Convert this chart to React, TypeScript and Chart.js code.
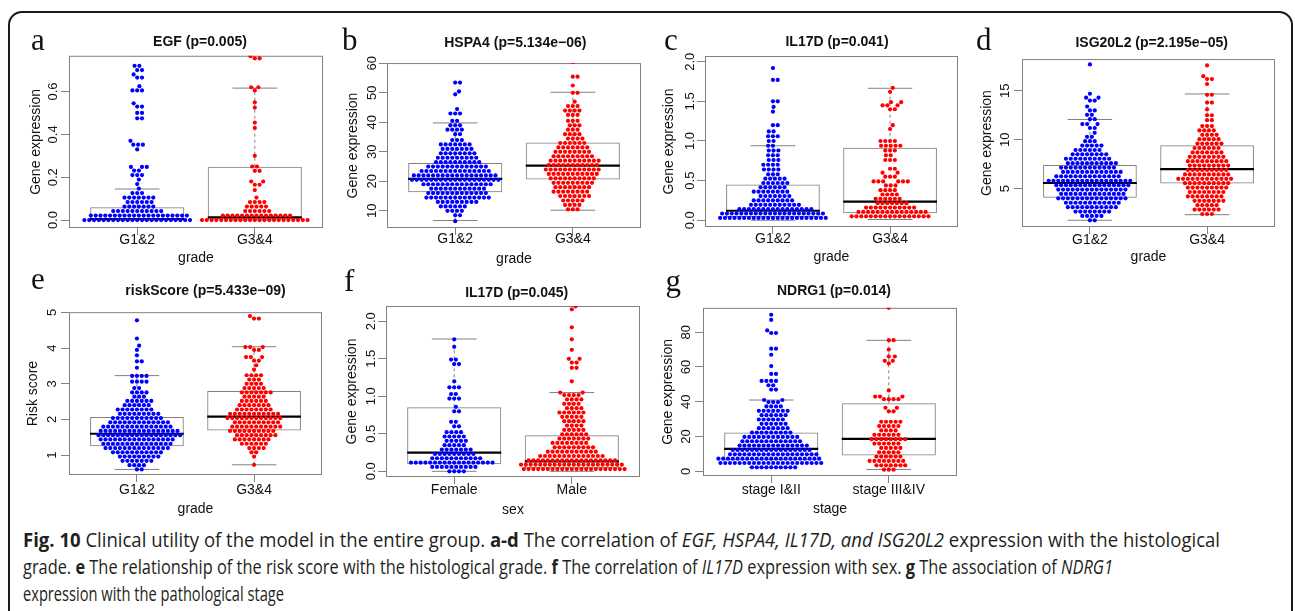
import React, { useEffect, useLayoutEffect, useRef } from 'react';
import { Chart, registerables } from 'chart.js';

Chart.register(...registerables);

const SANS = "'Liberation Sans', Arial, Helvetica, sans-serif";
const SERIF = "'Liberation Serif', 'Times New Roman', serif";
const CAPTION_FONT = "'Open Sans', 'Noto Sans', sans-serif";
const BLUE = '#0000ff';
const RED = '#ff0000';
const GRAY = '#808080';
const INK = '#111111';

// ---------------- data ----------------
const gradeGroups = ['G1&2', 'G3&4'];
const sexGroups = ['Female', 'Male'];
const stageGroups = ['stage I&II', 'stage III&IV'];

// y tick labels
const egfTicks = [0, 0.2, 0.4, 0.6];
const hspa4Ticks = [10, 20, 30, 40, 50, 60];
const il17dGradeTicks = [0, 0.5, 1, 1.5, 2];
const isg20l2Ticks = [5, 10, 15];
const riskTicks = [1, 2, 3, 4, 5];
const il17dSexTicks = [0, 0.5, 1, 1.5, 2];
const ndrg1Ticks = [0, 20, 40, 60, 80];

// box statistics: [lower whisker, Q1, median, Q3, upper whisker]
const egfBoxLow = [0, 0, 0.004, 0.06, 0.145];
const egfBoxHigh = [0, 0, 0.013, 0.249, 0.616];
const hspa4BoxLow = [6.7, 16.3, 20.8, 26.2, 39.8];
const hspa4BoxHigh = [10.2, 20.6, 25.3, 33.2, 50.2];
const il17dGradeBoxLow = [0, 0.04, 0.12, 0.45, 0.94];
const il17dGradeBoxHigh = [0.01, 0.09, 0.236, 0.915, 1.665];
const isg20l2BoxLow = [1.76, 4.05, 5.57, 7.42, 12.07];
const isg20l2BoxHigh = [2.33, 5.52, 7.0, 9.43, 14.68];
const riskBoxLow = [0.6, 1.25, 1.6, 2.07, 3.23];
const riskBoxHigh = [0.73, 1.69, 2.08, 2.8, 4.04];
const il17dFemaleBox = [0, 0.095, 0.25, 0.853, 1.764];
const il17dMaleBox = [0, 0.04, 0.133, 0.48, 1.05];
const ndrg1EarlyBox = [2.2, 6.5, 12.9, 22.4, 41];
const ndrg1LateBox = [1.1, 9.1, 18.7, 39.1, 75.3];

// beeswarm samples: value levels and number of samples at each level
const egfG12Level = [0, 0.021, 0.042, 0.063, 0.084, 0.105, 0.126, 0.147, 0.168, 0.189, 0.21, 0.231, 0.248, 0.33, 0.352, 0.37, 0.475, 0.5, 0.53, 0.545, 0.605, 0.625, 0.665, 0.68, 0.7, 0.72];
const egfG12Count = [23, 21, 11, 7, 6, 7, 3, 1, 1, 1, 3, 2, 3, 1, 3, 1, 2, 2, 2, 1, 3, 1, 2, 1, 2, 2];
const egfG34Level = [0, 0.021, 0.042, 0.063, 0.084, 0.105, 0.14, 0.165, 0.18, 0.23, 0.25, 0.3, 0.43, 0.455, 0.525, 0.55, 0.605, 0.62, 0.755, 0.765];
const egfG34Count = [23, 15, 6, 5, 4, 1, 1, 2, 2, 2, 2, 1, 1, 1, 1, 1, 1, 2, 2, 1];

const hspa4G12Level = [6.5, 8.5, 10, 11.5, 13, 14.5, 16, 17.5, 19, 20.5, 22, 23.5, 25, 26.5, 28, 29.5, 31, 32.5, 34, 36, 37.5, 39, 40.5, 43, 44.5, 49.5, 50.5, 53.5];
const hspa4G12Count = [1, 2, 4, 6, 9, 14, 13, 12, 15, 19, 18, 15, 13, 10, 9, 8, 7, 7, 3, 2, 4, 3, 2, 3, 1, 1, 1, 2];
const hspa4G34Level = [10.5, 12, 13.5, 15, 16.5, 18, 19.5, 21, 22.5, 24, 25.5, 27, 28.5, 30, 31.5, 33, 34.5, 36, 37.5, 39, 40.5, 42.5, 44, 45.5, 47, 50, 52.5, 55.5, 60.5];
const hspa4G34Count = [3, 4, 5, 7, 8, 8, 9, 10, 11, 12, 11, 11, 9, 8, 7, 6, 4, 4, 3, 3, 3, 3, 4, 3, 1, 2, 1, 2, 1];

const il17dG12Level = [0.03, 0.085, 0.14, 0.195, 0.25, 0.305, 0.36, 0.415, 0.47, 0.525, 0.58, 0.64, 0.7, 0.76, 0.82, 0.88, 0.94, 1.0, 1.06, 1.12, 1.2, 1.37, 1.43, 1.5, 1.77, 1.92];
const il17dG12Count = [23, 22, 16, 11, 9, 7, 8, 6, 6, 5, 3, 4, 4, 3, 3, 3, 2, 2, 3, 2, 2, 1, 1, 2, 2, 1];
const il17dG34Level = [0.05, 0.105, 0.16, 0.215, 0.27, 0.325, 0.38, 0.44, 0.49, 0.55, 0.6, 0.65, 0.76, 0.82, 0.88, 0.94, 1.0, 1.15, 1.2, 1.4, 1.45, 1.49, 1.62, 1.67];
const il17dG34Count = [17, 15, 11, 7, 6, 4, 4, 3, 6, 3, 2, 2, 3, 2, 3, 5, 4, 1, 1, 2, 3, 2, 1, 1];

const isgG12Level = [1.75, 2.2, 2.65, 3.1, 3.55, 4.0, 4.45, 4.9, 5.35, 5.8, 6.25, 6.7, 7.15, 7.6, 8.05, 8.5, 8.95, 9.4, 9.85, 10.3, 10.7, 11.2, 11.6, 12.1, 12.55, 13.0, 13.4, 14.0, 14.3, 14.7, 17.7];
const isgG12Count = [2, 5, 8, 11, 12, 15, 14, 15, 16, 18, 14, 13, 12, 11, 10, 8, 6, 5, 3, 2, 1, 2, 3, 2, 2, 2, 1, 2, 2, 1, 1];
const isgG34Level = [2.4, 2.85, 3.3, 3.75, 4.2, 4.65, 5.1, 5.55, 6.0, 6.45, 6.9, 7.35, 7.8, 8.25, 8.7, 9.15, 9.6, 10.05, 10.5, 10.95, 11.4, 12.0, 12.5, 13.1, 13.8, 14.6, 15.7, 16.2, 16.5, 17.6];
const isgG34Count = [3, 6, 5, 7, 8, 8, 9, 10, 12, 10, 9, 9, 9, 8, 7, 6, 6, 5, 4, 4, 3, 2, 2, 1, 2, 2, 1, 2, 1, 1];

const riskG12Level = [0.6, 0.72, 0.84, 0.96, 1.08, 1.2, 1.32, 1.44, 1.56, 1.68, 1.8, 1.92, 2.04, 2.16, 2.28, 2.4, 2.52, 2.64, 2.76, 2.88, 3.06, 3.22, 3.45, 3.63, 3.8, 3.95, 4.07, 4.27, 4.78];
const riskG12Count = [2, 4, 7, 9, 11, 14, 15, 16, 18, 17, 15, 13, 11, 9, 8, 6, 6, 3, 4, 2, 4, 4, 1, 2, 1, 1, 1, 1, 1];
const riskG34Level = [0.73, 0.96, 1.08, 1.2, 1.32, 1.44, 1.56, 1.68, 1.8, 1.92, 2.04, 2.16, 2.28, 2.4, 2.52, 2.64, 2.76, 2.88, 3.0, 3.12, 3.24, 3.4, 3.52, 3.65, 3.75, 3.95, 4.03, 4.83, 4.9];
const riskG34Count = [1, 1, 2, 4, 6, 8, 9, 10, 11, 10, 12, 11, 8, 7, 6, 5, 7, 5, 4, 3, 4, 1, 1, 2, 3, 2, 3, 2, 1];

const il17dFemaleLevel = [0, 0.058, 0.116, 0.174, 0.232, 0.29, 0.348, 0.406, 0.464, 0.522, 0.6, 0.66, 0.8, 0.86, 0.97, 1.03, 1.12, 1.2, 1.43, 1.49, 1.66, 1.76];
const il17dFemaleCount = [4, 10, 18, 11, 9, 7, 5, 5, 5, 4, 2, 2, 2, 1, 3, 2, 3, 1, 2, 2, 1, 1];
const il17dMaleLevel = [0.03, 0.088, 0.146, 0.204, 0.262, 0.32, 0.378, 0.436, 0.494, 0.552, 0.61, 0.668, 0.726, 0.784, 0.842, 0.9, 0.958, 1.016, 1.05, 1.2, 1.38, 1.45, 1.5, 1.62, 1.76, 1.92, 2.16, 2.2];
const il17dMaleCount = [22, 22, 19, 14, 11, 9, 8, 7, 6, 5, 4, 5, 5, 6, 4, 4, 4, 4, 2, 1, 2, 2, 2, 1, 1, 1, 1, 1];

const ndrg1EarlyLevel = [2.3, 4.8, 7.3, 9.8, 12.3, 14.8, 17.3, 19.8, 22.3, 24.8, 27.3, 29.8, 32.3, 34.8, 37.3, 39.8, 41, 47, 49.5, 52, 56, 60.5, 67, 70.5, 79.5, 81, 87, 90];
const ndrg1EarlyCount = [10, 22, 22, 19, 17, 15, 13, 12, 9, 7, 6, 6, 6, 7, 4, 3, 2, 2, 2, 4, 2, 1, 1, 2, 2, 1, 1, 1];
const ndrg1LateLevel = [1, 3.5, 6, 8.5, 11, 13.5, 16, 18.5, 21, 23.5, 26, 28.5, 34.5, 36.5, 41.5, 43, 46.5, 62, 63.5, 66, 70, 75.4, 94];
const ndrg1LateCount = [3, 7, 8, 6, 5, 5, 6, 8, 6, 4, 5, 5, 2, 2, 4, 3, 1, 1, 2, 2, 1, 2, 1];

// ---------------- layout / style ----------------
const AXW = 46; // y-axis band width
const AXH = 42; // x-axis band height
const PT = 6;
const PR = 6;
const BOX_W = 0.8;
const STAPLE = 0.19;
const DOT_R = 2.1;
const DOT_GAP = 4.8;
const YTICK_SIZE = 13;
const YTICK_LEN = 8;
const XTICK_LEN = 7;

type Panel = {
  letter: string; title: string; yTitle: string; xTitle: string; groups: string[];
  ticks: number[]; decimals: number; yMin: number; yMax: number;
  levels: number[][]; counts: number[][]; boxes: number[][];
  frame: number[]; titleAt: number[]; letterAt: number[];
  yTickOff: number; yTitleOff: number; xTickOff: number; xTitleOff: number;
};

const panels: Panel[] = [
  { letter: 'a', title: 'EGF (p=0.005)', yTitle: 'Gene expression', xTitle: 'grade', groups: gradeGroups,
    ticks: egfTicks, decimals: 1, yMin: -0.037, yMax: 0.767,
    levels: [egfG12Level, egfG34Level], counts: [egfG12Count, egfG34Count], boxes: [egfBoxLow, egfBoxHigh],
    frame: [69, 55, 323, 228], titleAt: [200, 41], letterAt: [32, 50], yTickOff: 16, yTitleOff: 33, xTickOff: 12, xTitleOff: 30 },
  { letter: 'b', title: 'HSPA4 (p=5.134e\u221206)', yTitle: 'Gene expression', xTitle: 'grade', groups: gradeGroups,
    ticks: hspa4Ticks, decimals: 0, yMin: 4.17, yMax: 60.1,
    levels: [hspa4G12Level, hspa4G34Level], counts: [hspa4G12Count, hspa4G34Count], boxes: [hspa4BoxLow, hspa4BoxHigh],
    frame: [387, 62, 641, 228], titleAt: [515.3, 41.7], letterAt: [343, 50], yTickOff: 14.5, yTitleOff: 34, xTickOff: 11.5, xTitleOff: 31 },
  { letter: 'c', title: 'IL17D (p=0.041)', yTitle: 'Gene expression', xTitle: 'grade', groups: gradeGroups,
    ticks: il17dGradeTicks, decimals: 1, yMin: -0.085, yMax: 2.072,
    levels: [il17dG12Level, il17dG34Level], counts: [il17dG12Count, il17dG34Count], boxes: [il17dGradeBoxLow, il17dGradeBoxHigh],
    frame: [705, 56, 958, 227], titleAt: [837, 41], letterAt: [665, 50], yTickOff: 15, yTitleOff: 35.7, xTickOff: 12.3, xTitleOff: 30.3 },
  { letter: 'd', title: 'ISG20L2 (p=2.195e\u221205)', yTitle: 'Gene expression', xTitle: 'grade', groups: gradeGroups,
    ticks: isg20l2Ticks, decimals: 0, yMin: 1.07, yMax: 18.25,
    levels: [isgG12Level, isgG34Level], counts: [isgG12Count, isgG34Count], boxes: [isg20l2BoxLow, isg20l2BoxHigh],
    frame: [1022, 56, 1275, 227], titleAt: [1151.7, 42], letterAt: [977, 50], yTickOff: 16.5, yTitleOff: 35.3, xTickOff: 13, xTitleOff: 30.3 },
  { letter: 'e', title: 'riskScore (p=5.433e\u221209)', yTitle: 'Risk score', xTitle: 'grade', groups: gradeGroups,
    ticks: riskTicks, decimals: 0, yMin: 0.444, yMax: 5.008,
    levels: [riskG12Level, riskG34Level], counts: [riskG12Count, riskG34Count], boxes: [riskBoxLow, riskBoxHigh],
    frame: [69, 305, 322, 475], titleAt: [205.5, 290.3], letterAt: [32, 289], yTickOff: 17, yTitleOff: 36.3, xTickOff: 15, xTitleOff: 33.7 },
  { letter: 'f', title: 'IL17D (p=0.045)', yTitle: 'Gene expression', xTitle: 'sex', groups: sexGroups,
    ticks: il17dSexTicks, decimals: 1, yMin: -0.076, yMax: 2.204,
    levels: [il17dFemaleLevel, il17dMaleLevel], counts: [il17dFemaleCount, il17dMaleCount], boxes: [il17dFemaleBox, il17dMaleBox],
    frame: [386, 306, 640, 477], titleAt: [516.7, 292], letterAt: [345, 291], yTickOff: 14.5, yTitleOff: 34.3, xTickOff: 13.3, xTitleOff: 33.3 },
  { letter: 'g', title: 'NDRG1 (p=0.014)', yTitle: 'Gene expression', xTitle: 'stage', groups: stageGroups,
    ticks: ndrg1Ticks, decimals: 0, yMin: -2.66, yMax: 93.95,
    levels: [ndrg1EarlyLevel, ndrg1LateLevel], counts: [ndrg1EarlyCount, ndrg1LateCount], boxes: [ndrg1EarlyBox, ndrg1LateBox],
    frame: [703, 305, 957, 476], titleAt: [834, 290.3], letterAt: [666.5, 291], yTickOff: 16.3, yTitleOff: 34.7, xTickOff: 13.7, xTitleOff: 32.7 },
];

function expand(levels: number[], counts: number[]): number[] {
  const out: number[] = [];
  levels.forEach((v, i) => { for (let k = 0; k < counts[i]; k++) out.push(v); });
  return out;
}

// swarm layout (pixel space): returns horizontal pixel offsets
function swarm(py: number[], d: number): number[] {
  const idx = py.map((_, i) => i).sort((a, b) => py[b] - py[a]);
  const placed: { x: number; y: number }[] = [];
  const out = new Array(py.length).fill(0);
  const d2 = d * d - 1e-6;
  for (const i of idx) {
    const y = py[i];
    const near = placed.filter((p) => Math.abs(p.y - y) < d);
    const cands = [0];
    for (const p of near) {
      const dx = Math.sqrt(Math.max(0, d * d - (p.y - y) * (p.y - y)));
      cands.push(p.x + dx, p.x - dx);
    }
    cands.sort((a, b) => Math.abs(a) - Math.abs(b));
    let best = 0;
    for (const c of cands) {
      if (near.every((p) => (p.x - c) * (p.x - c) + (p.y - y) * (p.y - y) >= d2)) { best = c; break; }
    }
    placed.push({ x: best, y });
    out[i] = best;
  }
  return out;
}

const framePlugin = {
  id: 'plotFrame',
  beforeDatasetsDraw(chart: any) {
    const { ctx, chartArea } = chart;
    ctx.save();
    ctx.strokeStyle = GRAY;
    ctx.lineWidth = 1;
    ctx.strokeRect(chartArea.left + 0.5, chartArea.top + 0.5, chartArea.right - chartArea.left - 1, chartArea.bottom - chartArea.top - 1);
    ctx.restore();
  },
};

function PanelChart({ p }: { p: Panel }) {
  const ref = useRef<HTMLCanvasElement>(null);
  const [l, t, r, b] = p.frame;
  const W = r - l + AXW + PR;
  const H = b - t + PT + AXH;

  useEffect(() => {
    const canvas = ref.current;
    if (!canvas) return;
    const m = document.createElement('canvas').getContext('2d') as CanvasRenderingContext2D;
    m.font = `${YTICK_SIZE}px ${SANS}`;
    const widest = Math.max(...p.ticks.map((v) => m.measureText(v.toFixed(p.decimals)).width));
    const colors = [BLUE, RED];
    const datasets: any[] = [];
    p.levels.forEach((lv, g) => {
      datasets.push({
        type: 'scatter',
        data: expand(lv, p.counts[g]).map((v) => ({ x: g + 1, y: v })),
        pointRadius: DOT_R, pointBackgroundColor: colors[g], backgroundColor: colors[g],
        pointBorderWidth: 0, borderWidth: 0, pointHoverRadius: DOT_R, clip: 0, order: 0,
      });
    });
    datasets.push({
      type: 'bar',
      data: p.boxes.map((bx, g) => ({ x: g + 1, y: [bx[1], bx[3]] })),
      backgroundColor: 'rgba(0,0,0,0)', borderColor: GRAY, borderWidth: 1, borderSkipped: false,
      barPercentage: BOX_W, categoryPercentage: 1, grouped: false, order: 3,
    });
    p.boxes.forEach((bx, g) => {
      const c = g + 1;
      const seg = (pts: any[], color: string, width: number, dash: number[]) =>
        datasets.push({ type: 'line', data: pts, borderColor: color, borderWidth: width, borderDash: dash,
          pointRadius: 0, pointHoverRadius: 0, fill: false, tension: 0, order: 2 });
      seg([{ x: c, y: bx[3] }, { x: c, y: bx[4] }], GRAY, 1, [3, 3]);
      seg([{ x: c, y: bx[0] }, { x: c, y: bx[1] }], GRAY, 1, [3, 3]);
      seg([{ x: c - STAPLE, y: bx[4] }, { x: c + STAPLE, y: bx[4] }], GRAY, 1, []);
      seg([{ x: c - STAPLE, y: bx[0] }, { x: c + STAPLE, y: bx[0] }], GRAY, 1, []);
      seg([{ x: c - BOX_W / 2, y: bx[2] }, { x: c + BOX_W / 2, y: bx[2] }], '#000000', 2.2, []);
    });

    const chart = new Chart(canvas, {
      type: 'scatter',
      data: { datasets },
      options: {
        responsive: false,
        animation: false,
        devicePixelRatio: 1,
        events: [],
        layout: { padding: { top: PT, right: PR, left: 0, bottom: 0 } },
        plugins: { legend: { display: false }, tooltip: { enabled: false }, title: { display: false } },
        scales: {
          x: {
            type: 'linear', min: 0.42, max: 2.58, offset: false,
            afterBuildTicks: (s: any) => { s.ticks = p.groups.map((_, i) => ({ value: i + 1 })); },
            afterFit: (s: any) => { s.height = AXH; },
            ticks: {
              callback: (v: any) => p.groups[Math.round(Number(v)) - 1] ?? '',
              font: { family: SANS, size: 14 }, color: INK, autoSkip: false,
              maxRotation: 0, minRotation: 0, padding: p.xTickOff - XTICK_LEN - 8.4,
            },
            grid: { display: true, drawOnChartArea: false, drawTicks: true, tickLength: XTICK_LEN, color: GRAY, offset: false },
            border: { display: false },
            title: { display: true, text: p.xTitle, color: INK, font: { family: SANS, size: 14 },
              padding: { top: 0, bottom: AXH - p.xTitleOff - 8.4 } },
          },
          y: {
            type: 'linear', min: p.yMin, max: p.yMax,
            afterBuildTicks: (s: any) => { s.ticks = p.ticks.map((v) => ({ value: v })); },
            afterFit: (s: any) => { s.width = AXW; },
            ticks: {
              callback: (v: any) => Number(v).toFixed(p.decimals),
              font: { family: SANS, size: YTICK_SIZE }, color: INK, autoSkip: false,
              minRotation: 90, maxRotation: 90, crossAlign: 'center',
              padding: p.yTickOff - YTICK_LEN - widest / 2,
            },
            grid: { display: true, drawOnChartArea: false, drawTicks: true, tickLength: YTICK_LEN, color: GRAY },
            border: { display: false },
            title: { display: true, text: p.yTitle, color: INK, font: { family: SANS, size: 14 },
              padding: { top: AXW - p.yTitleOff - 8.4, bottom: 0 } },
          },
        },
      } as any,
      plugins: [framePlugin],
    });

    const xs: any = chart.scales.x;
    const ys: any = chart.scales.y;
    const unit = xs.getPixelForValue(2) - xs.getPixelForValue(1);
    p.levels.forEach((lv, g) => {
      const vals = expand(lv, p.counts[g]);
      const offs = swarm(vals.map((v) => ys.getPixelForValue(v)), DOT_GAP);
      (chart.data.datasets[g] as any).data = vals.map((v, i) => ({ x: g + 1 + offs[i] / unit, y: v }));
    });
    chart.update('none');
    return () => chart.destroy();
  }, [p]);

  return (
    <canvas ref={ref} width={W} height={H}
      style={{ position: 'absolute', left: l - AXW, top: t - PT, width: W, height: H }} />
  );
}

const captionTops = [526.9, 553.9, 580.6];
const captionWidths = [1197, 1090, 261];

function Caption() {
  const r0 = useRef<HTMLDivElement>(null);
  const r1 = useRef<HTMLDivElement>(null);
  const r2 = useRef<HTMLDivElement>(null);
  useLayoutEffect(() => {
    const refs = [r0, r1, r2];
    const fit = () => refs.forEach((r, i) => {
      const el = r.current;
      if (!el) return;
      el.style.transform = 'none';
      const w = el.getBoundingClientRect().width;
      if (w > 0) el.style.transform = `scaleX(${captionWidths[i] / w})`;
    });
    fit();
    const fonts: any = (document as any).fonts;
    if (fonts && fonts.ready) fonts.ready.then(fit);
  }, []);
  const base: React.CSSProperties = {
    position: 'absolute', left: 23, whiteSpace: 'nowrap', fontFamily: CAPTION_FONT, fontSize: 20,
    lineHeight: '26.7px', color: '#231f20', transformOrigin: '0 0',
  };
  return (
    <>
      <div ref={r0} style={{ ...base, top: captionTops[0] }}>
        <b>Fig. 10</b> Clinical utility of the model in the entire group. <b>a-d</b> The correlation of{' '}
        <i>EGF, HSPA4, IL17D, and ISG20L2</i> expression with the histological
      </div>
      <div ref={r1} style={{ ...base, top: captionTops[1] }}>
        grade. <b>e</b> The relationship of the risk score with the histological grade. <b>f</b> The correlation of{' '}
        <i>IL17D</i> expression with sex. <b>g</b> The association of <i>NDRG1</i>
      </div>
      <div ref={r2} style={{ ...base, top: captionTops[2] }}>
        expression with the pathological stage
      </div>
    </>
  );
}

export default function App() {
  return (
    <div style={{ position: 'absolute', left: 0, top: 0, width: 1295, height: 611, background: '#ffffff', overflow: 'hidden' }}>
      <div style={{ position: 'absolute', left: 8, top: 11, width: 1285, height: 680, border: '2px solid #1a1a1a',
        borderRadius: 14, boxSizing: 'border-box' }} />
      {panels.map((p) => (
        <React.Fragment key={p.letter}>
          <PanelChart p={p} />
          <div style={{ position: 'absolute', left: p.letterAt[0] - 1, top: p.letterAt[1] - 26, fontFamily: SERIF,
            fontSize: 31, lineHeight: '31px', color: '#111' }}>{p.letter}</div>
          <div style={{ position: 'absolute', left: p.titleAt[0] - 150, width: 300, top: p.titleAt[1] - 8,
            textAlign: 'center', fontFamily: SANS, fontWeight: 'bold', fontSize: 14, lineHeight: '16px',
            color: INK, whiteSpace: 'nowrap' }}>{p.title}</div>
        </React.Fragment>
      ))}
      <Caption />
    </div>
  );
}
